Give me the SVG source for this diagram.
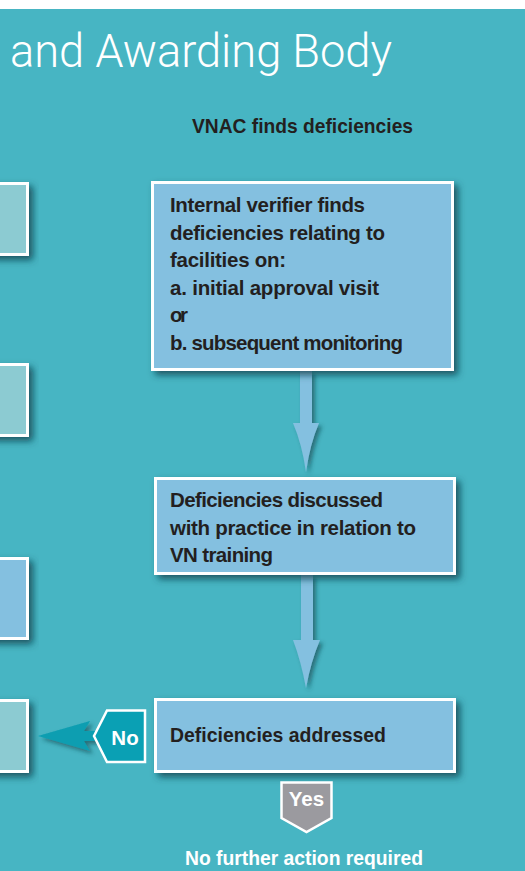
<svg xmlns="http://www.w3.org/2000/svg" width="525" height="871" viewBox="0 0 525 871">
  <defs>
    <filter id="shadow" x="-20%" y="-20%" width="150%" height="150%">
      <feDropShadow dx="4" dy="4" stdDeviation="3.5" flood-color="#0a3f48" flood-opacity="0.8"/>
    </filter>
    <filter id="shadowSm" x="-30%" y="-30%" width="170%" height="170%">
      <feDropShadow dx="3" dy="3" stdDeviation="2" flood-color="#0a3f48" flood-opacity="0.6"/>
    </filter>
    <style>
      .box { stroke: #ffffff; stroke-width: 3; filter: url(#shadow); }
      .blue { fill: #84c0e0; }
      .pale { fill: #8ccbd2; }
      .label { font-family: "Liberation Sans", Arial, sans-serif; font-weight: bold; font-size: 20.5px; fill: #231f20; }
      .white { fill: #ffffff; }
      .arrow { fill: #84c0e0; filter: url(#shadowSm); }
      .badge { stroke: #ffffff; stroke-width: 2.5; stroke-linejoin: miter; }
    </style>
  </defs>

  <!-- page background -->
  <rect x="0" y="0" width="525" height="871" fill="#ffffff"/>
  <rect x="0" y="9" width="525" height="862" fill="#47b5c3"/>

  <!-- heading -->
  <text x="10" y="67" font-family="Roboto, 'Liberation Sans', sans-serif" font-weight="300" font-size="46" fill="#ffffff" textLength="382" lengthAdjust="spacingAndGlyphs">and Awarding Body</text>

  <text id="column-title" class="label" x="192" y="133" textLength="221" lengthAdjust="spacingAndGlyphs">VNAC finds deficiencies</text>

  <!-- connectors -->
  <g id="connectors">
    <path class="arrow" d="M300,371 L312,371 L312,423 L319,423 Q310,444 306,472 Q302,444 293,423 L300,423 Z"/>
    <path class="arrow" d="M301,575 L313,575 L313,640 L320,640 Q311,661 306,688 Q301,661 293,640 L301,640 Z"/>
    <path fill="#0b9eb1" filter="url(#shadowSm)" d="M97,731 L84,731 L90,721 L38,736 L90,751 L84,741 L97,741 Z"/>
  </g>

  <!-- boxes of the neighbouring column (cut off at the page edge) -->
  <g id="left-box-1"><rect class="box pale" x="-10" y="183.5" width="37.5" height="71"/></g>
  <g id="left-box-2"><rect class="box pale" x="-10" y="364.5" width="37.5" height="71"/></g>
  <g id="left-box-3"><rect class="box blue" x="-10" y="558.5" width="37.5" height="80"/></g>
  <g id="left-box-4"><rect class="box pale" x="-10" y="700.5" width="37.5" height="71"/></g>

  <!-- verifier step -->
  <g id="verifier-finds">
    <rect class="box blue" x="152.5" y="182.5" width="300" height="187"/>
    <text class="label" lengthAdjust="spacingAndGlyphs">
      <tspan x="170" y="212" textLength="195">Internal verifier finds</tspan>
      <tspan x="170" y="240" textLength="215">deficiencies relating to</tspan>
      <tspan x="170" y="267" textLength="116">facilities on:</tspan>
      <tspan x="170" y="295" textLength="209">a. initial approval visit</tspan>
      <tspan x="170" y="322" textLength="18">or</tspan>
      <tspan x="170" y="350" textLength="233">b. subsequent monitoring</tspan>
    </text>
  </g>

  <!-- discussion step -->
  <g id="discussed">
    <rect class="box blue" x="155.5" y="478.5" width="299" height="95"/>
    <text class="label" lengthAdjust="spacingAndGlyphs">
      <tspan x="170" y="507" textLength="213">Deficiencies discussed</tspan>
      <tspan x="170" y="535" textLength="246">with practice in relation to</tspan>
      <tspan x="170" y="562" textLength="103">VN training</tspan>
    </text>
  </g>

  <!-- decision step -->
  <g id="addressed">
    <rect class="box blue" x="155.5" y="699.5" width="299" height="72"/>
    <text class="label" x="170" y="742" textLength="216" lengthAdjust="spacingAndGlyphs">Deficiencies addressed</text>
  </g>

  <!-- No branch tag -->
  <g id="no-tag">
    <path class="badge" fill="#0aa0b4" d="M94,736 L107,710.5 L145,710.5 L145,762 L107,762 Z"/>
    <text class="label white" x="125" y="745" text-anchor="middle">No</text>
  </g>

  <!-- Yes branch tag -->
  <g id="yes-tag">
    <path class="badge" fill="#9b9a9f" d="M281.5,782.5 L331.5,782.5 L331.5,818 L306.5,832 L281.5,818 Z"/>
    <text class="label white" x="306.5" y="806" text-anchor="middle">Yes</text>
  </g>

  <g id="no-further-action">
    <text class="label white" x="185" y="865" textLength="238" lengthAdjust="spacingAndGlyphs">No further action required</text>
  </g>
</svg>
